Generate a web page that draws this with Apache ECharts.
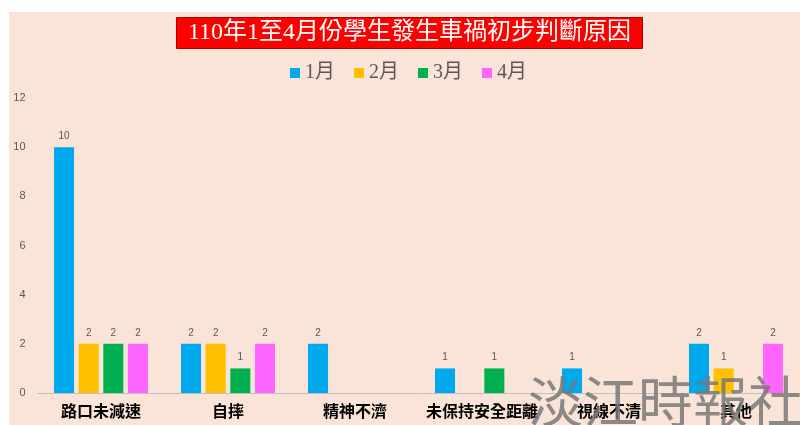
<!DOCTYPE html>
<html>
<head>
<meta charset="utf-8">
<script src="https://cdn.jsdelivr.net/npm/echarts@6/dist/echarts.min.js"></script>
<style>
  html, body { margin: 0; padding: 0; background: #fff; }
  #main { width: 800px; height: 425px; }
</style>
</head>
<body>
<div id="main"></div>
<script>
var categories = ['路口未減速', '自摔', '精神不濟', '未保持安全距離', '視線不清', '其他'];
var months = ['1月', '2月', '3月', '4月'];
var jan = [10, 2, 2, 1, 1, 2];
var feb = [2, 2, 0, 0, 0, 1];
var mar = [2, 1, 0, 1, 0, 0];
var apr = [2, 2, 0, 0, 0, 2];
var colors = ['#00A8EC', '#FFC000', '#00B050', '#FF66FF'];

var chartDom = document.getElementById('main');
var myChart = echarts.init(chartDom);

// zero means no bar and no label in the original
function noZero(arr) {
  return arr.map(function (v) { return v === 0 ? '-' : v; });
}

var labelSetting = {
  show: true,
  position: 'top',
  distance: 6,
  fontSize: 10,
  color: '#595959'
};

var series = [jan, feb, mar, apr].map(function (vals, i) {
  return {
    name: months[i],
    type: 'bar',
    barGap: '23%',
    barCategoryGap: '26%',
    label: labelSetting,
    itemStyle: { color: colors[i] },
    data: noZero(vals)
  };
});

var option = {
  backgroundColor: '#fff',
  color: colors,
  animation: false,
  title: {
    text: '110年1至4月份學生發生車禍初步判斷原因',
    left: 176,
    top: 17,
    backgroundColor: '#FF0000',
    borderColor: '#B00000',
    borderWidth: 1,
    padding: [4, 12, 4, 12],
    textStyle: {
      color: '#fff',
      fontSize: 24,
      fontWeight: 'normal',
      fontFamily: '"Liberation Serif", "Noto Sans CJK TC", serif'
    }
  },
  legend: {
    data: months,
    left: 290,
    top: 63,
    padding: 0,
    icon: 'rect',
    itemWidth: 10,
    itemHeight: 10,
    itemGap: 19,
    textStyle: {
      color: '#595959',
      fontSize: 20,
      fontFamily: '"Liberation Serif", "Noto Sans CJK TC", serif'
    }
  },
  grid: {
    left: 37.5,
    right: 0.5,
    top: 98,
    bottom: 32
  },
  xAxis: {
    type: 'category',
    data: categories,
    axisLine: { lineStyle: { color: '#BFBFBF', width: 1 } },
    axisTick: { show: false },
    axisLabel: {
      interval: 0,
      margin: 10,
      fontSize: 16,
      fontWeight: 'bold',
      color: '#000',
      fontFamily: '"Noto Sans CJK TC", sans-serif'
    }
  },
  yAxis: {
    type: 'value',
    min: 0,
    max: 12,
    interval: 2,
    splitLine: { show: false },
    axisLine: { show: false },
    axisTick: { show: false },
    axisLabel: {
      margin: 12,
      fontSize: 11,
      color: '#595959'
    }
  },
  graphic: [
    {
      type: 'rect',
      z: -10,
      silent: true,
      shape: { x: 9, y: 12, width: 800, height: 420 },
      style: { fill: '#FAE4D7' }
    },
    {
      type: 'text',
      z: 100,
      left: 528,
      top: 374,
      silent: true,
      style: {
        text: '淡江時報社',
        fontSize: 55,
        fontFamily: '"Noto Sans CJK TC", sans-serif',
        fill: 'rgba(120,120,120,0.85)'
      }
    }
  ],
  series: series
};

option && myChart.setOption(option);
</script>
</body>
</html>
